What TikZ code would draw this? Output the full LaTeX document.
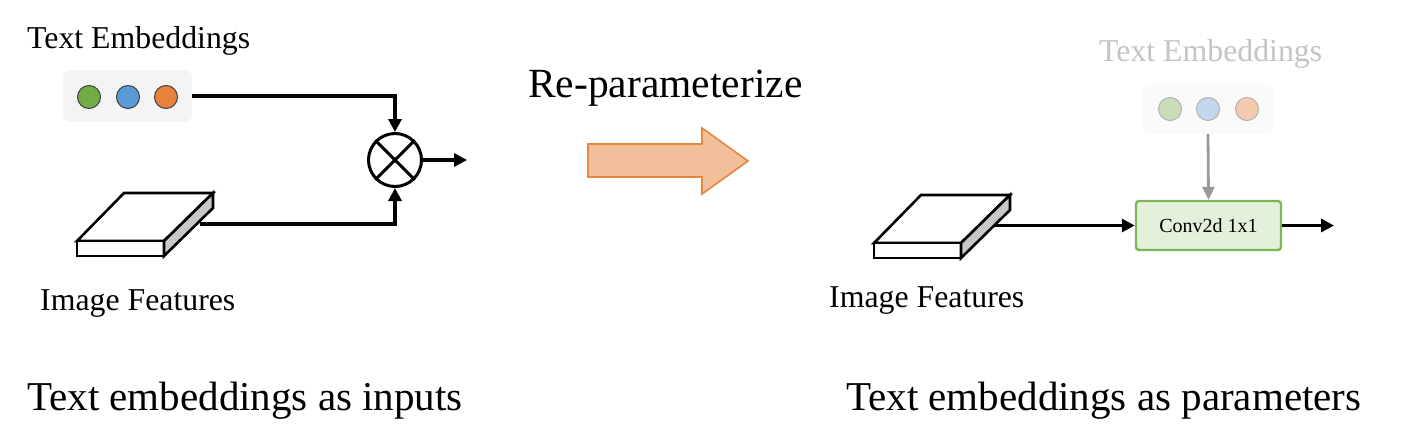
\documentclass[tikz,border=0pt]{standalone}
\usepackage{fontspec}
\setmainfont{Liberation Serif}
\usetikzlibrary{arrows.meta}
\definecolor{embfill}{HTML}{F4F4F4}
\definecolor{embfillf}{HTML}{FAFAFA}
\definecolor{cg}{HTML}{70AD47}
\definecolor{cb}{HTML}{5B9BD5}
\definecolor{co}{HTML}{E8823A}
\definecolor{cgf}{HTML}{C8DDB8}
\definecolor{cbf}{HTML}{C3D7EF}
\definecolor{cof}{HTML}{F4CBAE}
\definecolor{convfill}{HTML}{E3F0DA}
\definecolor{convline}{HTML}{7DB65A}
\definecolor{bigfill}{HTML}{F2BF9B}
\definecolor{bigline}{HTML}{E8853F}
\definecolor{sidegray}{HTML}{C8C8C8}
\definecolor{fadetext}{HTML}{C4C4C4}
\definecolor{arrgray}{HTML}{999999}
\begin{document}
\begin{tikzpicture}[x=1pt,y=-1pt,
  conn/.style={line width=3.2pt,-{Triangle[length=13pt,width=13pt]}},
  plain/.style={line width=3pt},
  grayconn/.style={line width=2.8pt,draw=arrgray,-{Triangle[length=13pt,width=12pt]}},
  embbox/.style={fill=embfill,rounded corners=7pt,minimum width=129pt,minimum height=52pt,inner sep=0pt},
  embboxf/.style={fill=embfillf,rounded corners=7pt,minimum width=130pt,minimum height=50pt,inner sep=0pt},
  dot/.style={circle,draw=black!75,line width=1pt,minimum size=23pt,inner sep=0pt},
  dotf/.style={circle,draw=black!30,line width=1pt,minimum size=23pt,inner sep=0pt},
  lbl/.style={anchor=base west,inner sep=0pt,font=\fontsize{31.8}{36}\selectfont},
  title/.style={anchor=base west,inner sep=0pt,font=\fontsize{41}{48}\selectfont},
  slabline/.style={line width=2.6pt,line join=miter},
  slab/.pic={
    \draw[slabline,fill=white] (0,0) -- (47,-48) -- (136,-48) -- (87,0) -- cycle;
    \draw[slabline,fill=white] (0,0) rectangle (87,15);
    \draw[slabline,fill=sidegray] (87,0) -- (136,-48) -- (136,-33) -- (87,15) -- cycle;
  }]
\useasboundingbox (0,0) rectangle (1414,445);

% ---------- left ----------
\node[lbl] (t1) at (27,48) {Text Embeddings};
\node[embbox] (e1) at (127.5,96) {};
\node[dot,fill=cg] (g1) at (89,97) {};
\node[dot,fill=cb] (b1) at (128,97) {};
\node[dot,fill=co] (o1) at (166,97) {};
\node[circle,draw,line width=3pt,minimum size=53pt,inner sep=0pt] (mul) at (395,160) {};
\draw[plain] (mul.north west) -- (mul.south east);
\draw[plain] (mul.north east) -- (mul.south west);
\pic at (77,241) {slab};
\coordinate (s1) at (200,224);
\coordinate (out1) at (467,160);
\draw[conn] (e1.east) -| (mul.north);
\draw[conn] (s1) -| (mul.south);
\draw[conn] (mul.east) -- (out1);
\node[lbl] (if1) at (40,310) {Image Features};
\node[title] (tt1) at (27,410) {Text embeddings as inputs};

% ---------- middle ----------
\node[anchor=base west,inner sep=0pt,font=\fontsize{41.5}{48}\selectfont] (rp) at (528,97) {Re-parameterize};
\draw[line width=1.6pt,draw=bigline,fill=bigfill,line join=miter]
  (588,144) -- (702,144) -- (702,128) -- (748,161) -- (702,194) -- (702,177) -- (588,177) -- cycle;

% ---------- right ----------
\node[lbl,text=fadetext] (t2) at (1099,61) {Text Embeddings};
\node[embboxf] (e2) at (1208,109) {};
\node[dotf,fill=cgf] (g2) at (1170,109) {};
\node[dotf,fill=cbf] (b2) at (1208,109) {};
\node[dotf,fill=cof] (o2) at (1247,109) {};
\node[draw=convline,fill=convfill,line width=2.4pt,rounded corners=3pt,minimum width=145pt,minimum height=49pt,inner sep=0pt,font=\fontsize{20}{24}\selectfont] (conv) at (1208.5,225.5) {Conv2d 1x1};
\pic at (874,243) {slab};
\coordinate (s2) at (995,225.5);
\coordinate (out2) at (1334,225.5);
\draw[conn] (s2) -- (conv.west);
\draw[conn] (conv.east) -- (out2);
\draw[grayconn] (e2.south) -- (conv.north);
\node[lbl] (if2) at (829,307) {Image Features};
\node[title] (tt2) at (846,410) {Text embeddings as parameters};
\end{tikzpicture}
\end{document}
